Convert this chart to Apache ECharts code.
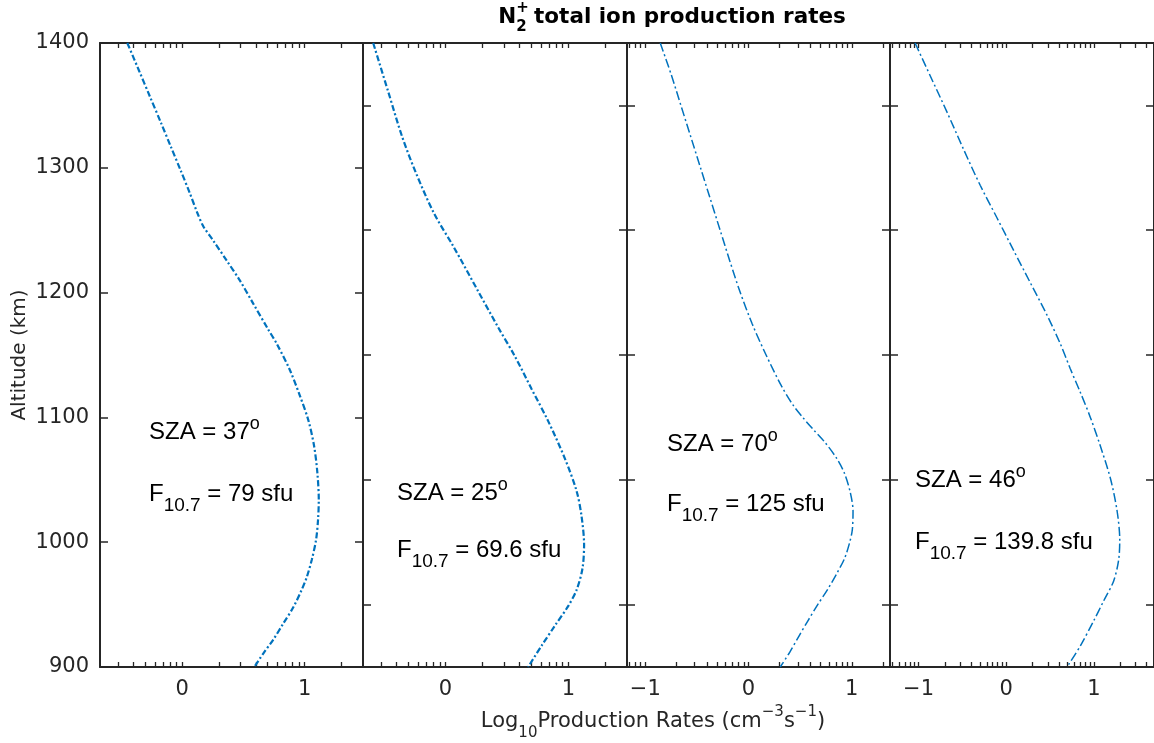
<!DOCTYPE html>
<html><head><meta charset="utf-8">
<script src="https://cdn.jsdelivr.net/npm/echarts@6/dist/echarts.min.js"></script>
<style>html,body{margin:0;padding:0;background:#fff}#c{width:1154px;height:743px}</style>
</head><body><div id="c"></div>
<script>
// ---- data (log10 production rate vs altitude, km) ----
const alt1 = [1400,1378,1357,1336,1317,1298,1280,1264,1253,1242,1226,1210,1191,1171,1159,1138,1117,1098,1077,1055,1034,1018,1002,986,972,962,948,935,922,911,900];
const rate1 = [-0.447,-0.352,-0.262,-0.172,-0.092,-0.012,0.062,0.124,0.174,0.252,0.362,0.47,0.582,0.70,0.773,0.88,0.963,1.03,1.078,1.105,1.116,1.11,1.094,1.059,1.018,0.977,0.909,0.827,0.745,0.664,0.59];
const alt2 = [1400,1361,1325,1296,1263,1237,1201,1172,1149,1123,1097,1067,1041,1021,998,979,962,949,933,917,900];
const rate2 = [-0.587,-0.465,-0.352,-0.24,-0.09,0.065,0.267,0.43,0.565,0.70,0.836,0.972,1.067,1.107,1.128,1.115,1.068,1.0,0.89,0.782,0.673];
const alt3 = [1400,1375,1350,1325,1300,1275,1250,1225,1200,1175,1150,1125,1110,1100,1090,1080,1067,1055,1040,1025,1010,1000,987,975,962,950,937,925,912,900];
const rate3 = [-0.855,-0.75,-0.655,-0.56,-0.465,-0.37,-0.275,-0.18,-0.08,0.035,0.17,0.32,0.43,0.525,0.63,0.74,0.855,0.93,0.985,1.012,1.005,0.98,0.93,0.855,0.765,0.67,0.575,0.49,0.40,0.307];
const alt4 = [1400,1374,1345,1315,1286,1260,1234,1208,1182,1159,1139,1120,1100,1077,1051,1025,1002,986,969,953,937,917,900];
const rate4 = [-1.04,-0.869,-0.678,-0.488,-0.297,-0.106,0.083,0.274,0.465,0.617,0.731,0.846,0.96,1.074,1.189,1.265,1.295,1.283,1.226,1.112,0.998,0.846,0.694];

const szaValues = ['37','25','70','46'];
const f107Values = ['79','69.6','125','139.8'];
const xTickLabels = [[0,1],[0,1],[-1,0,1],[-1,0,1]];
const yTickLabels = [900,1000,1100,1200,1300,1400];
const yTicksOffset = [950,1050,1150,1250,1350];

// ---- layout / style ----
const xRanges = [[-0.67,1.477],[-0.67,1.477],[-1.177,1.37],[-1.326,1.686]];
const gridLefts = [100,363,627,890];
const gridWidths = [263,264,263,264];
const gridTop = 43, gridH = 624;
const axisColor = '#262626';
const lineColor = '#0072BD';
const lineWidths = [2.2,2.2,1.5,1.5];
const lineDash = [[6,2.5,2,2.5],[6,2.5,2,2.5],[9,3,2,3],[9,3,2,3]];
const annoPos = [[149,432,494],[397,493,550],[667,444,504],[915,480,542]];

const altitudes = [alt1,alt2,alt3,alt4];
const rates = [rate1,rate2,rate3,rate4];

function logMinor(min,max){
  const out=[];
  for(let n=-3;n<=2;n++) for(let k=1;k<=9;k++){
    const v=n+Math.log10(k);
    if(v>=min-1e-9 && v<=max+1e-9) out.push(+v.toFixed(6));
  }
  return out;
}
const fmtX = v => v<0 ? '\u2212'+Math.abs(v) : String(v);

const grids=[], xAxes=[], yAxes=[], series=[];
for(let i=0;i<4;i++){
  grids.push({left:gridLefts[i], top:gridTop, width:gridWidths[i], height:gridH, containLabel:false});
  const [mn,mx]=xRanges[i];
  const minor=logMinor(mn,mx);
  const commonX={gridIndex:i,type:'value',min:mn,max:mx,splitLine:{show:false},
    axisLine:{show:true,onZero:false,lineStyle:{color:axisColor,width:2}},
    axisTick:{show:true,inside:true,length:5,customValues:minor,lineStyle:{color:axisColor,width:1.3}}};
  xAxes.push(Object.assign({},commonX,{position:'bottom',
    axisLabel:{show:true,customValues:xTickLabels[i],formatter:fmtX,fontSize:21,fontFamily:'DejaVu Sans',color:axisColor,margin:12}}));
  xAxes.push(Object.assign({},commonX,{position:'top',axisLabel:{show:false}}));
  const yt = i===0 ? yTickLabels : yTicksOffset;
  const commonY={gridIndex:i,type:'value',min:900,max:1400,splitLine:{show:false},
    axisLine:{show:true,onZero:false,lineStyle:{color:axisColor,width:2}},
    axisTick:{show:true,inside:true,length:8,customValues:yt,lineStyle:{color:axisColor,width:1.5}}};
  yAxes.push(Object.assign({},commonY,{position:'left',
    axisLabel: i===0 ? {show:true,customValues:yTickLabels,formatter:v=>String(v),fontSize:21,fontFamily:'DejaVu Sans',color:axisColor,margin:11} : {show:false}}));
  yAxes.push(Object.assign({},commonY,{position:'right',axisLabel:{show:false}}));
  series.push({type:'line',xAxisIndex:2*i,yAxisIndex:2*i,showSymbol:false,smooth:0.3,
    lineStyle:{color:lineColor,width:lineWidths[i],type:lineDash[i],cap:'butt'},
    data: altitudes[i].map((a,j)=>[rates[i][j],a])});
}

// ---- text helpers ----
const mctx=document.createElement('canvas').getContext('2d');
function fontStr(p){return (p.weight||'normal')+' '+p.size+'px '+p.family;}
function piecesWidth(parts){
  let w=0; parts.forEach(p=>{mctx.font=fontStr(p); const pw=mctx.measureText(p.t).width; if(!p.stack) w+=pw;}); return w;
}
function placePieces(parts,x,y,color){
  const els=[]; let cx=x;
  parts.forEach(p=>{
    const f=fontStr(p); mctx.font=f; const w=mctx.measureText(p.t).width;
    els.push({type:'text',x:cx,y:y+(p.dy||0),silent:true,
      style:{text:p.t,font:f,fill:color||'#000',textAlign:'left',textVerticalAlign:'middle',align:'left',verticalAlign:'middle'}});
    if(!p.stack) cx+=w;
  });
  return els;
}
const graphics=[];
// title
const TF='"DejaVu Sans"';
const titleParts=[{t:'N',size:21.5,weight:'bold',family:TF},{t:'+',size:15,weight:'bold',family:TF,dy:-9,stack:true},{t:'2',size:15,weight:'bold',family:TF,dy:10},{t:' total ion production rates',size:21.5,weight:'bold',family:TF}];
const tw=piecesWidth(titleParts);
graphics.push(...placePieces(titleParts,672-tw/2,17,'#000'));
// x axis title
const AF='"DejaVu Sans"';
const xParts=[{t:'Log',size:21,family:AF},{t:'10',size:15,family:AF,dy:11},{t:'Production Rates (cm',size:21,family:AF},{t:'\u22123',size:15,family:AF,dy:-10},{t:'s',size:21,family:AF},{t:'\u22121',size:15,family:AF,dy:-10},{t:')',size:21,family:AF}];
const xw=piecesWidth(xParts);
graphics.push(...placePieces(xParts,653-xw/2,722,axisColor));
// y axis title
graphics.push({type:'text',x:20,y:355,rotation:Math.PI/2,silent:true,
  style:{text:'Altitude (km)',font:'normal 20px "DejaVu Sans"',fill:axisColor,textAlign:'center',textVerticalAlign:'middle',align:'center',verticalAlign:'middle'}});
// annotations
const NF='"Liberation Sans"';
for(let i=0;i<4;i++){
  const [ax,ys,yf]=annoPos[i];
  graphics.push(...placePieces([{t:'SZA = '+szaValues[i],size:24,family:NF},{t:'o',size:18,family:NF,dy:-8}],ax,ys,'#000'));
  graphics.push(...placePieces([{t:'F',size:24,family:NF},{t:'10.7',size:19,family:NF,dy:12},{t:' = '+f107Values[i]+' sfu',size:24,family:NF}],ax,yf,'#000'));
}

const chart=echarts.init(document.getElementById('c'),null,{renderer:'canvas'});
chart.setOption({animation:false,backgroundColor:'#fff',grid:grids,xAxis:xAxes,yAxis:yAxes,series:series,graphic:{elements:graphics}});
</script></body></html>
